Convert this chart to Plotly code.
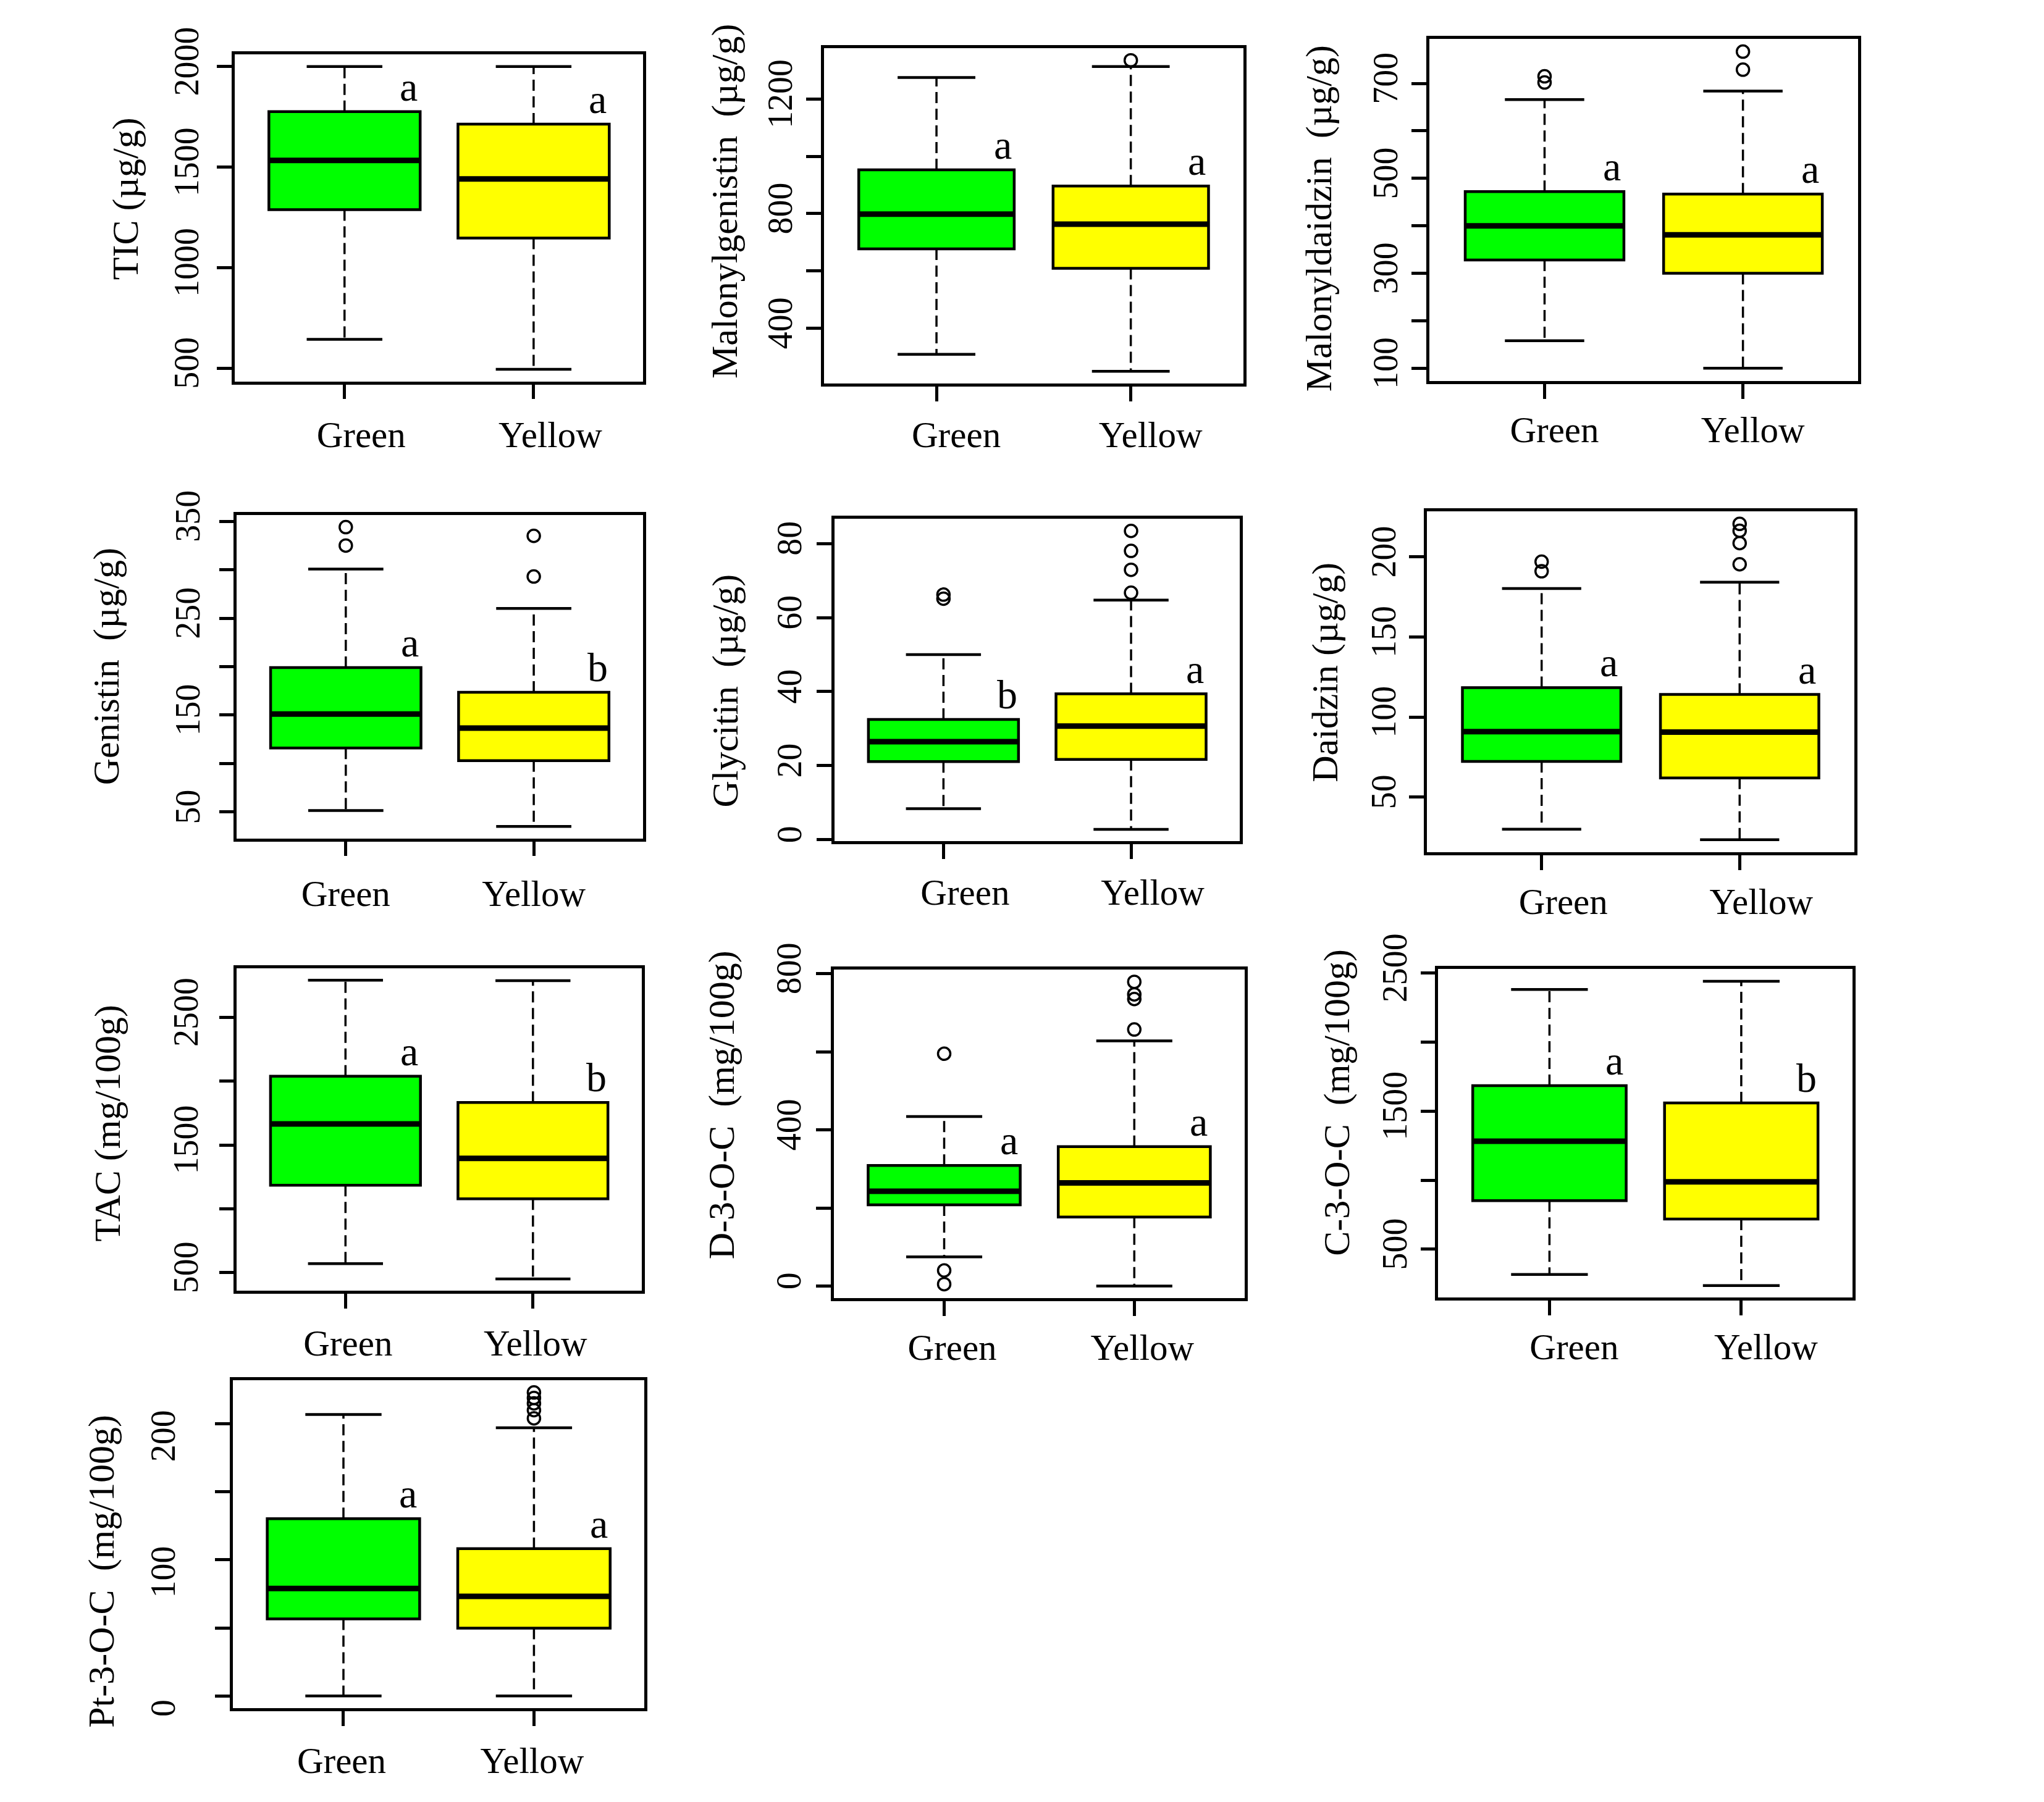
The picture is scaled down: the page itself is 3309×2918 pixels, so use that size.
import plotly.graph_objects as go

W, H = 3309, 2918
FONT = "Liberation Serif"
GROUPS = ["Green", "Yellow"]
FILLS = ["#00FF00", "#FFFF00"]

# Each box: [lower whisker, Q1, median, Q3, upper whisker]
tic_green = [643, 1288, 1533, 1776, 2000]
tic_yellow = [494, 1147, 1441, 1714, 2000]
tic_green_out = []
tic_yellow_out = []
tic_letters = ["a", "a"]
tic_ticks = [500, 1000, 1500, 2000]
tic_ticklabels = ["500", "1000", "1500", "2000"]

mgen_green = [309, 677, 798, 953, 1275]
mgen_yellow = [250, 609, 763, 896, 1313]
mgen_green_out = []
mgen_yellow_out = [1335]
mgen_letters = ["a", "a"]
mgen_ticks = [400, 600, 800, 1000, 1200]
mgen_ticklabels = ["400", "", "800", "", "1200"]

mdai_green = [158, 328, 400, 472, 666]
mdai_yellow = [100, 300, 381, 467, 684]
mdai_green_out = [702, 715]
mdai_yellow_out = [729, 767]
mdai_letters = ["a", "a"]
mdai_ticks = [100, 200, 300, 400, 500, 600, 700]
mdai_ticklabels = ["100", "", "300", "", "500", "", "700"]

gen_green = [51.5, 116, 151, 199, 300.7]
gen_yellow = [35, 103, 136.5, 173.5, 260]
gen_green_out = [325, 344]
gen_yellow_out = [293, 335]
gen_letters = ["a", "b"]
gen_ticks = [50, 100, 150, 200, 250, 300, 350]
gen_ticklabels = ["50", "", "150", "", "250", "", "350"]

gly_green = [8.4, 21.1, 26.5, 32.5, 50]
gly_yellow = [2.8, 21.7, 30.7, 39.4, 64.7]
gly_green_out = [65.1, 66.2]
gly_yellow_out = [66.7, 72.9, 78.0, 83.4]
gly_letters = ["b", "a"]
gly_ticks = [0, 20, 40, 60, 80]
gly_ticklabels = ["0", "20", "40", "60", "80"]

dai_green = [30, 72.3, 90.9, 118.4, 180.2]
dai_yellow = [23.4, 62, 90.6, 114.1, 184.2]
dai_green_out = [191, 197]
dai_yellow_out = [195.4, 208.6, 216.3, 220.6]
dai_letters = ["a", "a"]
dai_ticks = [50, 100, 150, 200]
dai_ticklabels = ["50", "100", "150", "200"]

tac_green = [569, 1184, 1665, 2038, 2791]
tac_yellow = [450, 1078, 1395, 1833, 2787]
tac_green_out = []
tac_yellow_out = []
tac_letters = ["a", "b"]
tac_ticks = [500, 1000, 1500, 2000, 2500]
tac_ticklabels = ["500", "", "1500", "", "2500"]

d3_green = [75, 208, 243, 309, 434]
d3_yellow = [0, 177, 264, 357, 628]
d3_green_out = [5, 40, 595]
d3_yellow_out = [657, 735, 747, 779]
d3_letters = ["a", "a"]
d3_ticks = [0, 200, 400, 600, 800]
d3_ticklabels = ["0", "", "400", "", "800"]

c3_green = [317, 852, 1282, 1684, 2381]
c3_yellow = [237, 719, 988, 1559, 2440]
c3_green_out = []
c3_yellow_out = []
c3_letters = ["a", "b"]
c3_ticks = [500, 1000, 1500, 2000, 2500]
c3_ticklabels = ["500", "", "1500", "", "2500"]

pt3_green = [0, 56.6, 79, 130.3, 206.8]
pt3_yellow = [0, 49.8, 73.2, 108.3, 197.1]
pt3_green_out = []
pt3_yellow_out = [204, 210, 215, 219, 223]
pt3_letters = ["a", "a"]
pt3_ticks = [0, 50, 100, 150, 200]
pt3_ticklabels = ["0", "", "100", "", "200"]

NB = "\u00a0"
# Layout of each panel: frame (left, right, top, bottom) in px, title offsets, label offsets
panels = [
    dict(title="TIC (µg/g)", st=[tic_green, tic_yellow], out=[tic_green_out, tic_yellow_out],
         letters=tic_letters, ticks=tic_ticks, tt=tic_ticklabels,
         frame=(380.2, 1041.4, 88.2, 617.7), tdx=177, tdy=31, ylab=77, xlab=86, xsh=27, ysh=0),
    dict(title="Malonylgenistin " + NB + "(µg/g)", st=[mgen_green, mgen_yellow], out=[mgen_green_out, mgen_yellow_out],
         letters=mgen_letters, ticks=mgen_ticks, tt=mgen_ticklabels,
         frame=(1333.6, 2013.1, 77.5, 621.3), tdx=160, tdy=24, ylab=63, xlab=82, xsh=32, ysh=0),
    dict(title="Malonyldaidzin " + NB + "(µg/g)", st=[mdai_green, mdai_yellow], out=[mdai_green_out, mdai_yellow_out],
         letters=mdai_letters, ticks=mdai_ticks, tt=mdai_ticklabels,
         frame=(2314.2, 3007.9, 63.1, 616.8), tdx=179, tdy=-14, ylab=70, xlab=79, xsh=16, ysh=0),
    dict(title="Genistin " + NB + "(µg/g)", st=[gen_green, gen_yellow], out=[gen_green_out, gen_yellow_out],
         letters=gen_letters, ticks=gen_ticks, tt=gen_ticklabels,
         frame=(383.3, 1040.6, 834.2, 1357.7), tdx=211, tdy=17, ylab=78, xlab=89, xsh=0, ysh=0),
    dict(title="Glycitin " + NB + "(µg/g)", st=[gly_green, gly_yellow], out=[gly_green_out, gly_yellow_out],
         letters=gly_letters, ticks=gly_ticks, tt=gly_ticklabels,
         frame=(1351.2, 2007.2, 840.4, 1362.3), tdx=177, tdy=-17, ylab=72, xlab=82, xsh=35, ysh=0),
    dict(title="Daidzin (µg/g)", st=[dai_green, dai_yellow], out=[dai_green_out, dai_yellow_out],
         letters=dai_letters, ticks=dai_ticks, tt=dai_ticklabels,
         frame=(2309.8, 3002.2, 827.9, 1380.2), tdx=165, tdy=15, ylab=60, xlab=68, xsh=35, ysh=0),
    dict(title="TAC (mg/100g)", st=[tac_green, tac_yellow], out=[tac_green_out, tac_yellow_out],
         letters=tac_letters, ticks=tac_ticks, tt=tac_ticklabels,
         frame=(383.3, 1038.8, 1567.9, 2090.3), tdx=209, tdy=11, ylab=81, xlab=84, xsh=4, ysh=0),
    dict(title="D-3-O-C " + NB + "(mg/100g)", st=[d3_green, d3_yellow], out=[d3_green_out, d3_yellow_out],
         letters=d3_letters, ticks=d3_ticks, tt=d3_ticklabels,
         frame=(1350.0, 2014.8, 1570.2, 2102.3), tdx=182, tdy=47, ylab=72, xlab=63, xsh=13, ysh=0),
    dict(title="C-3-O-C " + NB + "(mg/100g)", st=[c3_green, c3_yellow], out=[c3_green_out, c3_yellow_out],
         letters=c3_letters, ticks=c3_ticks, tt=c3_ticklabels,
         frame=(2328.3, 2999.0, 1569.3, 2101.4), tdx=164, tdy=50, ylab=59, xlab=77, xsh=40, ysh=0),
    dict(title="Pt-3-O-C " + NB + "(mg/100g)", st=[pt3_green, pt3_yellow], out=[pt3_green_out, pt3_yellow_out],
         letters=pt3_letters, ticks=pt3_ticks, tt=pt3_ticklabels,
         frame=(377.1, 1043.3, 2235.2, 2766.0), tdx=213, tdy=-44, ylab=112, xlab=84, xsh=-3, ysh=28),
]

KY = 69  # approx distance from frame to label centre at zero standoff (y)
KX = 79  # same for x

fig = go.Figure()
layout = {}
annotations = []
for i, p in enumerate(panels, start=1):
    sfx = "" if i == 1 else str(i)
    xa, ya = "x" + sfx, "y" + sfx
    L, R, T, B = p["frame"]
    allv = [v for s in p["st"] for v in s] + [v for o in p["out"] for v in o]
    lo, hi = min(allv), max(allv)
    pad = 0.04 * (hi - lo)

    for j in range(2):
        pos = j + 1
        lw, q1, med, q3, uw = p["st"][j]
        fig.add_trace(go.Scatter(x=[pos, pos, None, pos, pos], y=[q3, uw, None, q1, lw],
                                 mode="lines", line=dict(color="black", width=3.5, dash="18px,9px"),
                                 xaxis=xa, yaxis=ya, showlegend=False, hoverinfo="skip"))
        fig.add_trace(go.Scatter(x=[pos - 0.2, pos + 0.2, None, pos - 0.2, pos + 0.2], y=[uw, uw, None, lw, lw],
                                 mode="lines", line=dict(color="black", width=4.5),
                                 xaxis=xa, yaxis=ya, showlegend=False, hoverinfo="skip"))
        fig.add_trace(go.Box(x=[pos], q1=[q1], median=[med], q3=[q3], lowerfence=[q1], upperfence=[q3],
                             width=0.8, fillcolor=FILLS[j], line=dict(color="black", width=4.5),
                             boxpoints=False, xaxis=xa, yaxis=ya, showlegend=False, hoverinfo="skip"))
        fig.add_trace(go.Scatter(x=[pos - 0.4, pos + 0.4], y=[med, med], mode="lines",
                                 line=dict(color="black", width=9),
                                 xaxis=xa, yaxis=ya, showlegend=False, hoverinfo="skip"))
        if p["out"][j]:
            fig.add_trace(go.Scatter(x=[pos] * len(p["out"][j]), y=p["out"][j], mode="markers",
                                     marker=dict(symbol="circle-open", size=20, color="black", line=dict(width=3.5)),
                                     xaxis=xa, yaxis=ya, showlegend=False, hoverinfo="skip"))
        annotations.append(dict(text=p["letters"][j], xref=xa, yref=ya, x=pos + 0.34, y=q3,
                                xanchor="center", yanchor="bottom", yshift=2, showarrow=False,
                                font=dict(family=FONT, size=66, color="black")))

    annotations.append(dict(text=p["title"], xref=xa + " domain", yref=ya + " domain", x=0, y=0.5,
                            xshift=-p["tdx"], yshift=p["tdy"], textangle=-90, showarrow=False,
                            xanchor="center", yanchor="middle",
                            font=dict(family=FONT, size=60, color="black")))

    axis_common = dict(ticks="outside", ticklen=24, tickwidth=4.5, tickcolor="black",
                       showline=True, linewidth=4.5, linecolor="black", mirror=True,
                       showgrid=False, zeroline=False, automargin=False)
    layout["xaxis" + sfx] = dict(domain=[L / W, R / W], range=[0.42, 2.58], tickmode="array",
                                 tickvals=[1, 2], ticktext=GROUPS, anchor=ya,
                                 ticklabelstandoff=max(0, p["xlab"] - KX), ticklabelshift=p["xsh"],
                                 tickfont=dict(family=FONT, size=59, color="black"),
                                 **axis_common)
    layout["yaxis" + sfx] = dict(domain=[1 - B / H, 1 - T / H], range=[lo - pad, hi + pad], tickmode="array",
                                 tickvals=p["ticks"], ticktext=p["tt"], tickangle=-90, anchor=xa,
                                 ticklabelstandoff=max(0, p["ylab"] - KY), ticklabelshift=p["ysh"],
                                 tickfont=dict(family=FONT, size=56, color="black"),
                                 **axis_common)

fig.update_layout(width=W, height=H, margin=dict(l=0, r=0, t=0, b=0, autoexpand=False),
                  paper_bgcolor="white", plot_bgcolor="white", showlegend=False,
                  annotations=annotations, **layout)
fig.write_html("out.html")
